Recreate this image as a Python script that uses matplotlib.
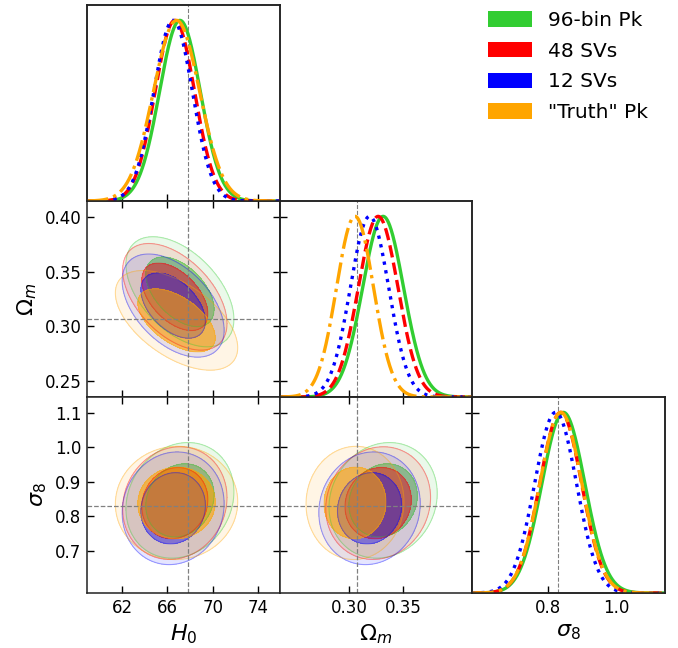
import numpy as np
import matplotlib.pyplot as plt
from matplotlib.patches import Patch

# Series names and styles
labels = ['96-bin Pk', '48 SVs', '12 SVs', '"Truth" Pk']
colors = ['limegreen', 'red', 'blue', 'orange']
styles = ['-', '--', ':', '-.']
inner_alpha = [0.48, 0.48, 0.45, 0.58]

# Posterior summaries (mean, sigma per parameter)
h0_mean = [67.1, 66.65, 66.5, 66.8]
h0_sigma = [1.80, 1.74, 1.70, 2.04]
om_mean = [0.3316, 0.3270, 0.3190, 0.3055]
om_sigma = [0.0190, 0.0184, 0.0178, 0.0172]
s8_mean = [0.8455, 0.8375, 0.8225, 0.8380]
s8_sigma = [0.0633, 0.0617, 0.0617, 0.0620]

# correlation coefficients between parameters
corr_h0_om = [-0.50, -0.50, -0.48, -0.55]
corr_h0_s8 = [0.15, 0.10, 0.08, 0.02]
corr_om_s8 = [0.12, 0.10, 0.08, 0.02]

truth = [67.77, 0.3071, 0.8288]
param_labels = [r'$H_0$', r'$\Omega_m$', r'$\sigma_8$']
lims = [(58.9, 75.9), (0.2355, 0.4145), (0.577, 1.145)]
xticks = [[62, 66, 70, 74], [0.30, 0.35], [0.8, 1.0]]
yticks = [[], [0.25, 0.30, 0.35, 0.40], [0.7, 0.8, 0.9, 1.0, 1.1]]
ticklabels_x = [['62', '66', '70', '74'], ['0.30', '0.35'], ['0.8', '1.0']]
ticklabels_y = [[], ['0.25', '0.30', '0.35', '0.40'], ['0.7', '0.8', '0.9', '1.0', '1.1']]

means = [h0_mean, om_mean, s8_mean]
sigmas = [h0_sigma, om_sigma, s8_sigma]
corr = {(1, 0): corr_h0_om, (2, 0): corr_h0_s8, (2, 1): corr_om_s8}

# chi2 levels of the inner and outer 2D contours (smoothed contours are a bit wider)
lev_in = 2.8
lev_out = 7.0

plt.rcParams['axes.linewidth'] = 1.1
plt.rcParams['axes.edgecolor'] = '#222222'

fig, axes = plt.subplots(3, 3, figsize=(6.78, 6.48), dpi=100)
fig.subplots_adjust(left=87/678, right=665/678, top=1-5/648, bottom=1-593/648,
                    wspace=0, hspace=0)

for i in range(3):
    for j in range(3):
        ax = axes[i, j]
        if j > i:
            ax.axis('off')
            continue
        ax.set_xlim(lims[j])
        ax.set_xticks(xticks[j])
        ax.tick_params(direction='in', length=5, width=1, labelsize=12, pad=4)
        if i == 2:
            ax.set_xticklabels(ticklabels_x[j])
            ax.set_xlabel(param_labels[j], fontsize=16)
        else:
            ax.tick_params(labelbottom=False)

        if i == j:
            # 1D marginal
            ax.tick_params(top=False, right=False, labelleft=False)
            if i > 0:
                ax.set_ylim(lims[i])
                ax.set_yticks(yticks[i])
            else:
                ax.set_yticks([])
            ax.axvline(truth[j], color='gray', ls='--', lw=0.8)
            tw = ax.twinx()
            x = np.linspace(lims[j][0], lims[j][1], 500)
            for k in range(4):
                pdf = np.exp(-0.5 * ((x - means[j][k]) / sigmas[j][k]) ** 2)
                tw.plot(x, pdf, color=colors[k], ls=styles[k], lw=2.4)
            tw.set_ylim(0, 1.085)
            tw.set_yticks([])
        else:
            ax.set_ylim(lims[i])
            ax.set_yticks(yticks[i])
            ax.tick_params(top=True, right=True)
            if j == 0:
                ax.set_yticklabels(ticklabels_y[i])
                ax.set_ylabel(param_labels[i], fontsize=16)
            else:
                ax.tick_params(labelleft=False)
            gx = np.linspace(lims[j][0], lims[j][1], 300)
            gy = np.linspace(lims[i][0], lims[i][1], 300)
            X, Y = np.meshgrid(gx, gy)
            for k in range(4):
                dx = (X - means[j][k]) / sigmas[j][k]
                dy = (Y - means[i][k]) / sigmas[i][k]
                r = corr[(i, j)][k]
                chi2 = (dx**2 - 2*r*dx*dy + dy**2) / (1 - r**2)
                ax.contourf(X, Y, chi2, levels=[0, lev_out], colors=[colors[k]], alpha=0.1)
                ax.contourf(X, Y, chi2, levels=[0, lev_in], colors=[colors[k]],
                            alpha=inner_alpha[k])
                ax.contour(X, Y, chi2, levels=[lev_in, lev_out], colors=[colors[k]],
                           linewidths=0.8, alpha=0.35)
            ax.axvline(truth[j], color='gray', ls='--', lw=0.9)
            ax.axhline(truth[i], color='gray', ls='--', lw=0.9)

handles = [Patch(facecolor=c, edgecolor='none') for c in colors]
fig.legend(handles, labels, loc='upper left', bbox_to_anchor=(488/678, 1-11/648),
           frameon=False, fontsize=14.5, handlelength=2.2, handleheight=0.8,
           handletextpad=0.8, labelspacing=0.58, borderpad=0, borderaxespad=0)

fig.savefig('out.png', dpi=100)
